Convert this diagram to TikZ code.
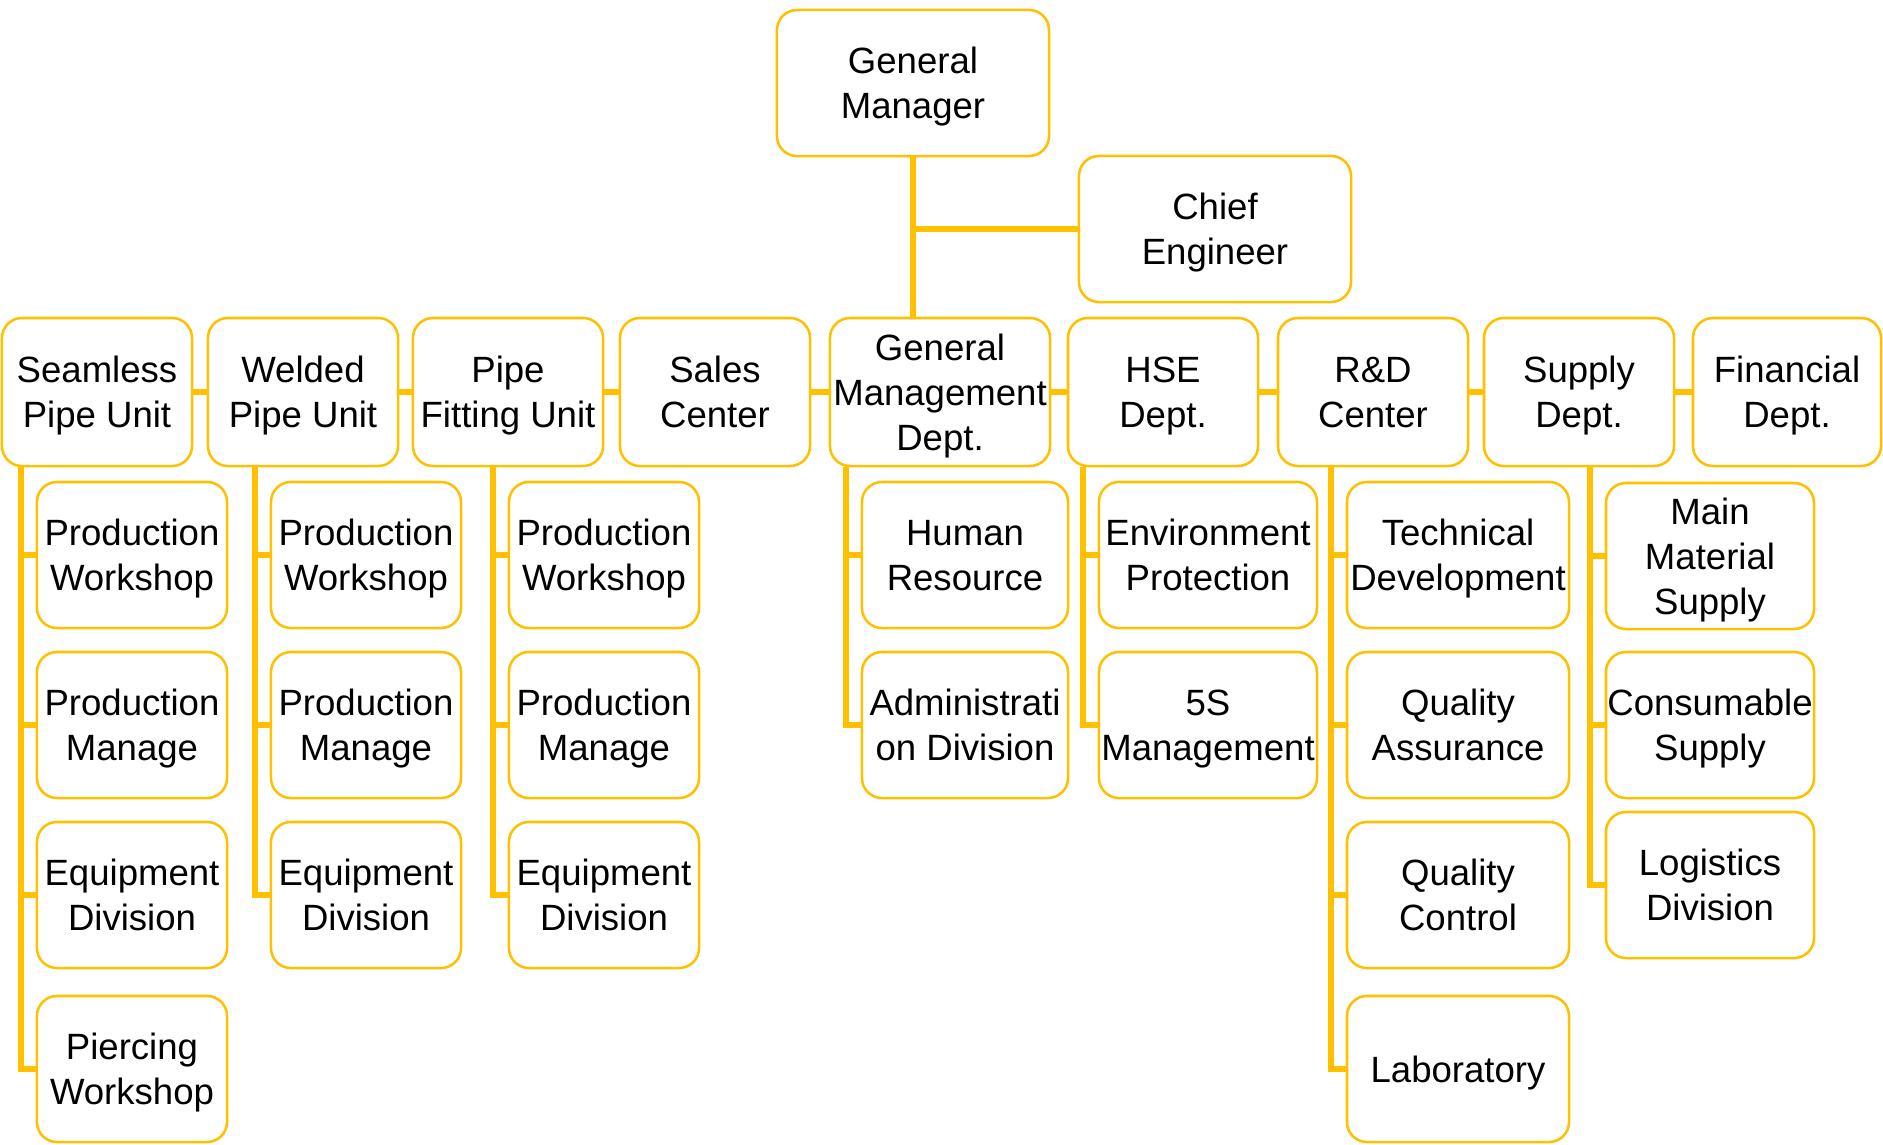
\documentclass[tikz,border=0pt]{standalone}
\usepackage{fontspec}
\setmainfont{Liberation Sans}
\usetikzlibrary{backgrounds}
\definecolor{gold}{HTML}{FFC000}

\begin{document}
\begin{tikzpicture}[x=0.025cm,y=-0.025cm,
    box/.style={draw=gold,line width=1.8pt,fill=white,rounded corners=0.5cm,
        minimum width=4.75cm,minimum height=3.65cm,inner sep=0pt,align=center,
        font=\fontsize{26}{32}\selectfont,text height=56pt,text depth=5.4pt},
    three/.style={text height=88pt},
    one/.style={text height=24pt},
    link/.style={draw=gold,line width=4.5pt}]
    \useasboundingbox (0,0) rectangle (1883,1145);

    % top
    \node[box,minimum width=6.8cm] (gm) at (913,83) {General\\Manager};
    \node[box,minimum width=6.8cm] (ce) at (1215,229) {Chief\\Engineer};

    % departments
    \node[box,minimum height=3.7cm] (sp) at (97,392) {Seamless\\Pipe Unit};
    \node[box,minimum height=3.7cm] (wp) at (303,392) {Welded\\Pipe Unit};
    \node[box,minimum height=3.7cm] (pf) at (508,392) {Pipe\\Fitting Unit};
    \node[box,minimum height=3.7cm] (sc) at (715,392) {Sales\\Center};
    \node[box,three,minimum height=3.7cm,minimum width=5.5cm] (gmd) at (940,392) {General\\Management\\Dept.};
    \node[box,minimum height=3.7cm] (hse) at (1163,392) {HSE\\Dept.};
    \node[box,minimum height=3.7cm] (rd) at (1373,392) {R\&D\\Center};
    \node[box,minimum height=3.7cm] (sup) at (1579,392) {Supply\\Dept.};
    \node[box,minimum height=3.7cm,minimum width=4.7cm] (fin) at (1787,392) {Financial\\Dept.};

    % units
    \node[box] (sp1) at (132,555) {Production\\Workshop};
    \node[box] (sp2) at (132,725) {Production\\Manage};
    \node[box] (sp3) at (132,895) {Equipment\\Division};
    \node[box] (sp4) at (132,1069) {Piercing\\Workshop};
    \node[box] (wp1) at (366,555) {Production\\Workshop};
    \node[box] (wp2) at (366,725) {Production\\Manage};
    \node[box] (wp3) at (366,895) {Equipment\\Division};
    \node[box] (pf1) at (604,555) {Production\\Workshop};
    \node[box] (pf2) at (604,725) {Production\\Manage};
    \node[box] (pf3) at (604,895) {Equipment\\Division};
    \node[box,minimum width=5.15cm] (gmd1) at (965,555) {Human\\Resource};
    \node[box,minimum width=5.15cm] (gmd2) at (965,725) {Administrati\\on Division};
    \node[box,minimum width=5.45cm] (hse1) at (1208,555) {Environment\\Protection};
    \node[box,minimum width=5.45cm] (hse2) at (1208,725) {5S\\Management};
    \node[box,minimum width=5.55cm] (rd1) at (1458,555) {Technical\\Development};
    \node[box,minimum width=5.55cm] (rd2) at (1458,725) {Quality\\Assurance};
    \node[box,minimum width=5.55cm] (rd3) at (1458,895) {Quality\\Control};
    \node[box,one,minimum width=5.55cm] (rd4) at (1458,1069) {Laboratory};
    \node[box,three,minimum width=5.2cm] (sup1) at (1710,556) {Main\\Material\\Supply};
    \node[box,minimum width=5.2cm] (sup2) at (1710,725) {Consumable\\Supply};
    \node[box,minimum width=5.2cm] (sup3) at (1710,885) {Logistics\\Division};

    \begin{scope}[on background layer]
    \draw[link] (gm.south) -- (gm.south |- sp.east);
    \draw[link] (gm.south |- ce.west) -- (ce.west);
    \draw[link] (sp.east) -- (fin.west);
    \foreach \p/\c in {sp/sp1,sp/sp2,sp/sp3,sp/sp4,wp/wp1,wp/wp2,wp/wp3,
        pf/pf1,pf/pf2,pf/pf3,gmd/gmd1,gmd/gmd2,hse/hse1,hse/hse2,
        rd/rd1,rd/rd2,rd/rd3,rd/rd4,sup/sup1,sup/sup2,sup/sup3}
        \draw[link] ([xshift=-0.375cm]\c.west |- \p.south) |- (\c.west);
    \end{scope}
\end{tikzpicture}
\end{document}
